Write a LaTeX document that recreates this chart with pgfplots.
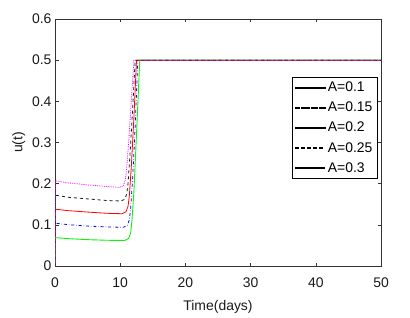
\documentclass[border=0pt]{standalone}
\usepackage{pgfplots}
\pgfplotsset{compat=1.18}
\usepackage{fontspec}
\setmainfont{Liberation Sans}
\definecolor{mgreen}{rgb}{0.05,0.95,0.05}
\definecolor{mblue}{rgb}{0,0,1}
\definecolor{mred}{rgb}{1,0,0}
\definecolor{mblack}{rgb}{0.1,0.1,0.1}
\definecolor{mmag}{rgb}{1,0,1}
\begin{document}
\begin{tikzpicture}
\begin{axis}[name=ax,
  scale only axis, width=326bp, height=247bp,
  xmin=0, xmax=50, ymin=0, ymax=0.6,
  xtick={0,10,20,30,40,50}, ytick={0,0.1,0.2,0.3,0.4,0.5,0.6},
  tick align=inside, tick pos=both,
  major tick length=3.5bp,
  axis line style={draw=black!80, line width=0.6pt},
  every tick/.style={draw=black!80, line width=0.5pt},
  /pgf/number format/assume math mode=true,
  tick label style={font=\fontsize{14}{16}\selectfont, text=black!90},
  xticklabel style={yshift=-8bp},
  label style={font=\fontsize{14}{16}\selectfont, text=black!90},
  xlabel style={yshift=-6bp},
  xlabel={Time(days)}, ylabel={u(t)},
  yticklabel style={/pgf/number format/fixed, /pgf/number format/precision=1},
  legend style={at={(0.988,0.765)}, anchor=north east,
    font=\fontsize{14}{15}\selectfont, row sep=5pt, inner sep=2.5pt},
  legend cell align=left,
]
\addlegendimage{legend image code/.code={\fill[fill=mgreen] (0cm,-0.5pt) rectangle (1.05cm,0.5pt);}}
\addlegendentry{A=0.1}
\addlegendimage{legend image code/.code={\foreach \s in {0,8,16,24}{\fill[fill=mblue] (\s pt,-0.45pt) rectangle ++(4pt,0.9pt); \fill[fill=mblue] (\s pt+5.5pt,-0.45pt) rectangle ++(1pt,0.9pt);}\fill[fill=mblue] (28.5pt,-0.45pt) rectangle (1.05cm,0.45pt);}}
\addlegendentry{A=0.15}
\addlegendimage{legend image code/.code={\fill[fill=mred] (0cm,-0.45pt) rectangle (1.05cm,0.45pt);}}
\addlegendentry{A=0.2}
\addlegendimage{legend image code/.code={\foreach \s in {0,6,12,18,24}{\fill[fill=mblack] (\s pt,-0.45pt) rectangle ++(3pt,0.9pt);}}}
\addlegendentry{A=0.25}
\addlegendimage{legend image code/.code={\foreach \s in {0,2,...,28}{\fill[fill=mmag] (\s pt,-0.45pt) rectangle ++(0.9pt,0.9pt);}}}
\addlegendentry{A=0.3}
\addplot[mgreen, line width=0.9pt, forget plot] coordinates {
(0,0) (0.03,0.069) (2,0.0665) (5,0.064) (8,0.0625) (10.7,0.062) (11.3,0.067) (11.6,0.08) (11.8,0.11) (12.1,0.18) (12.5,0.32) (13.0,0.5) (50,0.5)};
\addplot[mblue, dashdotted, line width=0.8pt, forget plot] coordinates {
(0,0) (0.03,0.104) (2,0.1005) (5,0.097) (8,0.095) (10.5,0.094) (11.1,0.099) (11.4,0.112) (11.6,0.14) (11.9,0.21) (12.3,0.34) (12.7,0.5) (50,0.5)};
\addplot[mred, line width=0.8pt, forget plot] coordinates {
(0,0) (0.03,0.138) (2,0.1345) (5,0.131) (8,0.128) (10.3,0.127) (10.9,0.132) (11.2,0.145) (11.4,0.17) (11.7,0.24) (12.1,0.36) (12.5,0.5) (50,0.5)};
\addplot[mblack, dashed, line width=0.8pt, forget plot] coordinates {
(0,0) (0.03,0.172) (2,0.167) (5,0.163) (8,0.159) (10.1,0.158) (10.7,0.162) (11.0,0.175) (11.2,0.2) (11.5,0.27) (11.9,0.38) (12.3,0.5) (50,0.5)};
\addplot[mmag, densely dotted, line width=0.8pt, forget plot] coordinates {
(0,0) (0.03,0.207) (2,0.202) (5,0.197) (8,0.193) (9.9,0.191) (10.5,0.195) (10.8,0.21) (11.0,0.24) (11.3,0.3) (11.7,0.4) (12.1,0.5) (50,0.5)};
\end{axis}
\pgfresetboundingbox
\path (ax.south west) ++(-55bp,-51bp) coordinate (bl);
\path (ax.north east) ++(29bp,19bp) coordinate (tr);
\useasboundingbox (bl) rectangle (tr);
\end{tikzpicture}
\end{document}
